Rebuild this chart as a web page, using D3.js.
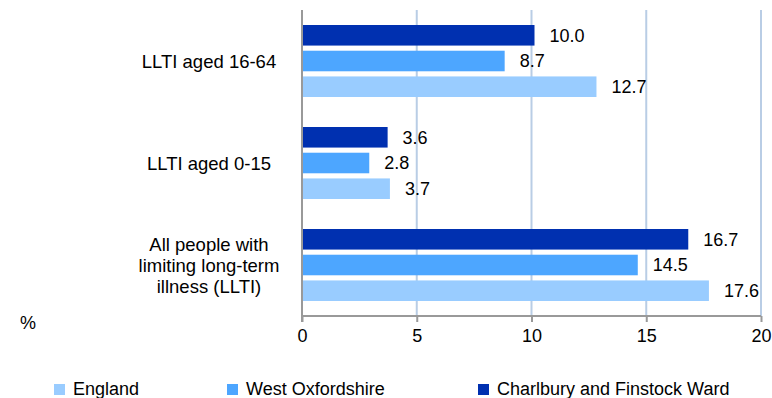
<!DOCTYPE html>
<html><head><meta charset="utf-8">
<script src="https://cdn.jsdelivr.net/npm/d3@7"></script>
<style>body{margin:0;background:#fff}svg{display:block;font-family:"Liberation Sans",Arial,sans-serif}</style>
</head><body><svg id="c" width="772" height="398"></svg>
<script>
const categories = ["LLTI aged 16-64", "LLTI aged 0-15", "All people with limiting long-term illness (LLTI)"];
const categoryLines = [["LLTI aged 16-64"], ["LLTI aged 0-15"], ["All people with", "limiting long-term", "illness (LLTI)"]];
const seriesNames = ["Charlbury and Finstock Ward", "West Oxfordshire", "England"];
const charlbury = [10.0, 3.6, 16.7];
const westOx = [8.7, 2.8, 14.5];
const england = [12.7, 3.7, 17.6];
const xTicks = [0, 5, 10, 15, 20];
const legendOrder = ["England", "West Oxfordshire", "Charlbury and Finstock Ward"];
const colors = {"Charlbury and Finstock Ward": "#0030B0", "West Oxfordshire": "#4DA6FF", "England": "#99CCFF"};
const seriesVals = [charlbury, westOx, england];

const svg = d3.select("#c");
const x = d3.scaleLinear().domain([0, 20]).range([302, 761]);
const y = d3.scaleBand().domain(categories).range([10, 316]);
const inner = d3.scaleBand().domain(seriesNames).range([15, 87]).paddingInner(0.2);

// gridlines
svg.append("g").selectAll("line").data(xTicks.filter(d => d > 0)).join("line")
  .attr("x1", d => x(d)).attr("x2", d => x(d)).attr("y1", 10).attr("y2", 316)
  .attr("stroke", "#B9CDE5").attr("stroke-width", 2);

// bars
categories.forEach((c, i) => {
  seriesNames.forEach((s, j) => {
    const v = seriesVals[j][i];
    svg.append("rect").attr("x", x(0)).attr("y", y(c) + inner(s))
      .attr("width", x(v) - x(0) + 3).attr("height", inner.bandwidth()).attr("fill", colors[s]);
    svg.append("text").attr("x", x(v) + 18).attr("y", y(c) + inner(s) + inner.bandwidth() / 2)
      .attr("dy", "0.36em").attr("font-size", 18).attr("fill", "#000").text(v.toFixed(1));
  });
});

// x axis
const xa = svg.append("g").attr("transform", "translate(0,316)")
  .call(d3.axisBottom(x).tickValues(xTicks).tickSize(6).tickPadding(7).tickFormat(d3.format("d")));
xa.select(".domain").attr("stroke", "#999").attr("stroke-width", 2).attr("d", `M${x(0)},0H${x(20)}`);
xa.selectAll(".tick line").attr("stroke", "#999").attr("stroke-width", 2);
xa.selectAll(".tick text").attr("font-size", 18).attr("font-family", "Liberation Sans, Arial, sans-serif").attr("fill", "#000");

// y axis line
svg.append("line").attr("x1", x(0)).attr("x2", x(0)).attr("y1", 10).attr("y2", 322)
  .attr("stroke", "#999").attr("stroke-width", 2);

// category labels
categories.forEach((c, i) => {
  const lines = categoryLines[i];
  const cy = y(c) + y.bandwidth() / 2;
  const lh = 21;
  const t = svg.append("text").attr("text-anchor", "middle").attr("font-size", 18.5).attr("fill", "#000");
  lines.forEach((l, k) => {
    t.append("tspan").attr("x", 209).attr("y", cy + (k - (lines.length - 1) / 2) * lh).attr("dy", "0.36em").text(l);
  });
});

svg.append("text").attr("x", 20).attr("y", 322.5).attr("dy", "0.36em").attr("font-size", 18).text("%");

// legend
const legX = [54, 227, 478];
legendOrder.forEach((s, i) => {
  svg.append("rect").attr("x", legX[i]).attr("y", 384).attr("width", 11).attr("height", 11).attr("fill", colors[s]);
  svg.append("text").attr("x", legX[i] + 19).attr("y", 388.5).attr("dy", "0.36em")
    .attr("font-size", 18).text(s);
});
</script></body></html>
